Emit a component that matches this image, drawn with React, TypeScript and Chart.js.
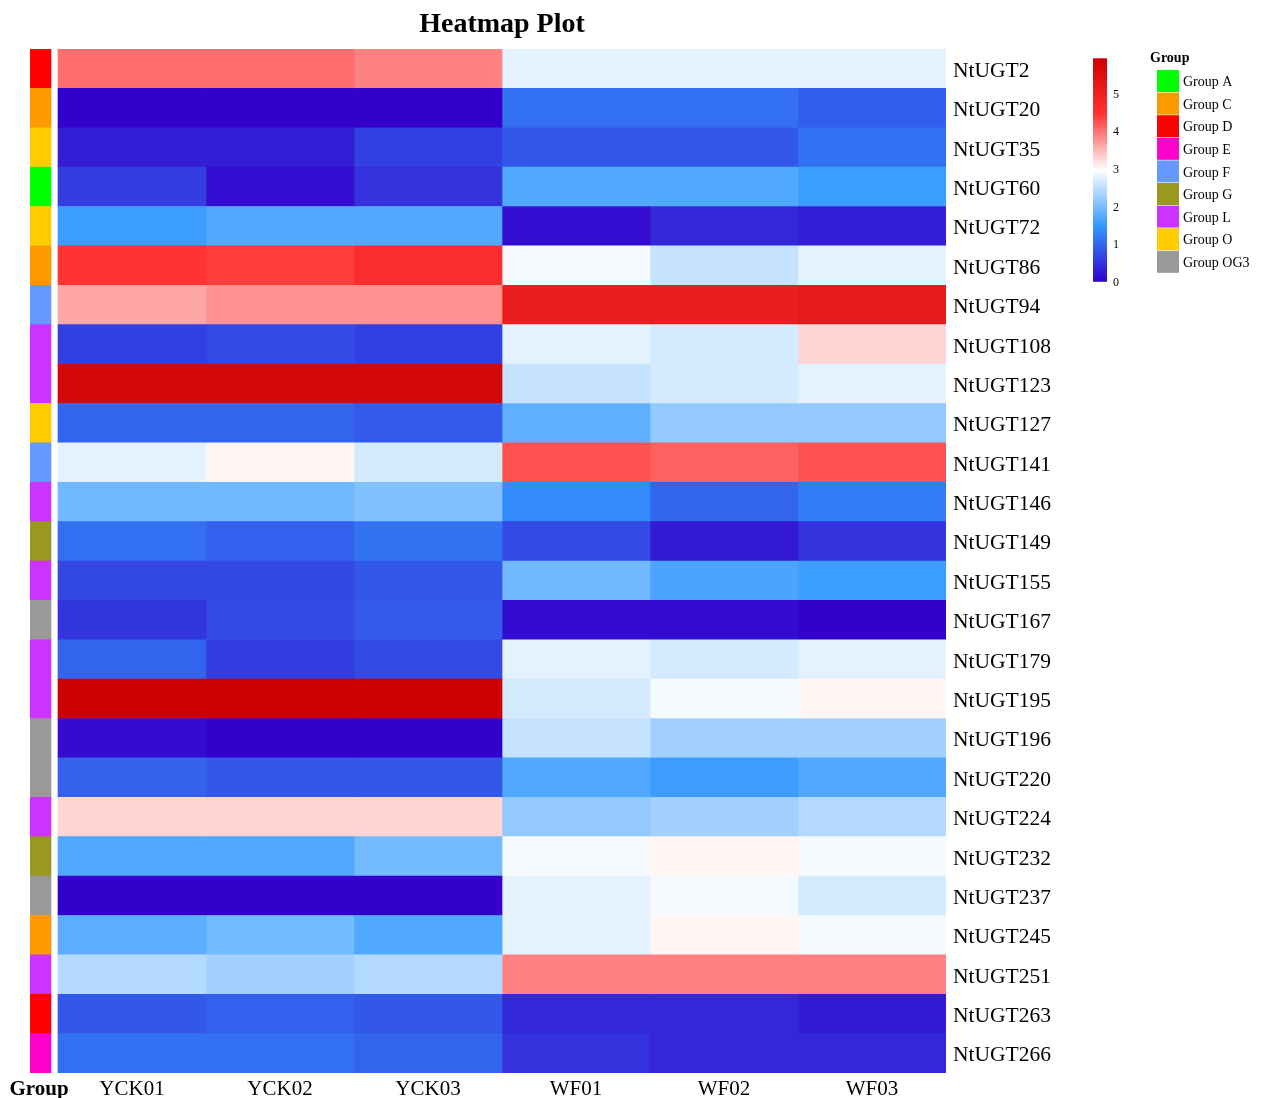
import React, { useEffect, useRef } from "react";
import { Chart, registerables } from "chart.js";

Chart.register(...registerables);

const genes = ["NtUGT2","NtUGT20","NtUGT35","NtUGT60","NtUGT72","NtUGT86","NtUGT94","NtUGT108","NtUGT123","NtUGT127","NtUGT141","NtUGT146","NtUGT149","NtUGT155","NtUGT167","NtUGT179","NtUGT195","NtUGT196","NtUGT220","NtUGT224","NtUGT232","NtUGT237","NtUGT245","NtUGT251","NtUGT263","NtUGT266"];
const samples = ["YCK01","YCK02","YCK03","WF01","WF02","WF03"];
const yck01 = [4.03,0,0.29,0.59,1.54,4.455,3.62,0.62,5.71,0.97,2.77,1.93,1.09,0.70,0.52,0.97,5.94,0.12,0.95,3.28,1.70,0,1.78,2.42,0.85,1.09];
const yck02 = [4.03,0,0.29,0.13,1.70,4.38,3.77,0.72,5.71,0.97,3.04,1.93,0.93,0.70,0.72,0.58,5.94,0,0.85,3.28,1.70,0,1.96,2.30,0.93,1.09];
const yck03 = [3.88,0,0.62,0.49,1.70,4.63,3.77,0.62,5.71,0.87,2.66,2.06,1.12,0.85,0.87,0.72,5.94,0,0.85,3.28,1.96,0,1.70,2.42,0.85,0.97];
const wf01 = [2.77,1.09,0.85,1.70,0.13,2.90,5.07,2.77,2.55,1.81,4.24,1.34,0.72,1.93,0.12,2.77,2.66,2.55,1.70,2.18,2.90,2.77,2.77,3.88,0.39,0.49];
const wf02 = [2.77,1.09,0.85,1.70,0.39,2.55,5.07,2.66,2.66,2.18,4.13,0.97,0.23,1.66,0.12,2.66,2.90,2.30,1.55,2.30,3.04,2.90,3.04,3.88,0.39,0.39];
const wf03 = [2.77,0.91,1.09,1.54,0.29,2.77,5.18,3.28,2.77,2.18,4.24,1.20,0.49,1.54,0,2.77,3.04,2.30,1.70,2.42,2.90,2.66,2.90,3.88,0.25,0.39];
const sampleValues = [yck01, yck02, yck03, wf01, wf02, wf03];
const geneGroups = ["D","C","O","A","O","C","F","L","L","O","F","L","G","L","OG3","L","L","OG3","OG3","L","G","OG3","C","L","D","E"];
const groupNames = ["A","C","D","E","F","G","L","O","OG3"];
const groupColors = ["#00FF00","#FF9900","#FF0000","#FF00CC","#6699FF","#999922","#CC33FF","#FFCC00","#999999"];
const colorMin = 0;
const colorMax = 5.94;
const colorbarTicks = [0,1,2,3,4,5];
const rampColors = ["#3300CC","#3399FF","#FFFFFF","#FF3333","#CC0000"];

const FONT = "'Liberation Serif', 'Times New Roman', serif";

function hexToRgb(h: string) {
  return [parseInt(h.slice(1,3),16), parseInt(h.slice(3,5),16), parseInt(h.slice(5,7),16)];
}
function valueColor(v: number) {
  const t = Math.max(0, Math.min(1, (v - colorMin) / (colorMax - colorMin)));
  const n = rampColors.length - 1;
  const seg = Math.min(n - 1, Math.floor(t * n));
  const f = t * n - seg;
  const a = hexToRgb(rampColors[seg]);
  const b = hexToRgb(rampColors[seg + 1]);
  const c = a.map((x, i) => Math.round(x + (b[i] - x) * f));
  return `rgb(${c[0]},${c[1]},${c[2]})`;
}

const GROUP_LEFT = -28 / 148;
const GROUP_RIGHT = -7 / 148;
const GROUP_TICK = (GROUP_LEFT + GROUP_RIGHT) / 2 - 0.01;

const overlayPlugin = {
  id: "overlay",
  afterDraw(chart: any) {
    const ctx = chart.ctx;
    const xs = chart.scales.x;
    ctx.save();
    ctx.fillStyle = "#000";
    ctx.font = `bold 28px ${FONT}`;
    ctx.textAlign = "center";
    ctx.textBaseline = "middle";
    const cx = (xs.getPixelForValue(0) + xs.getPixelForValue(6)) / 2;
    ctx.fillText("Heatmap Plot", cx, 25);
    ctx.textAlign = "left";
    ctx.font = `bold 14px ${FONT}`;
    ctx.fillText("Group", 1150, 58);
    ctx.font = `14px ${FONT}`;
    groupNames.forEach((g, i) => {
      const y = 70 + i * 22.6;
      ctx.fillStyle = groupColors[i];
      ctx.fillRect(1157, y, 22, 22);
      ctx.fillStyle = "#000";
      ctx.fillText("Group " + g, 1183, y + 12.5);
    });
    ctx.restore();
  },
};

function ColorBar() {
  const ref = useRef<HTMLCanvasElement>(null);
  useEffect(() => {
    const chart = new Chart(ref.current!, {
      type: "bar",
      data: {
        labels: [""],
        datasets: [{
          data: [[colorMin, colorMax]] as any,
          backgroundColor: (c: any) => {
            const ch = c.chart;
            const ys = ch.scales.y;
            if (!ch.chartArea || !ys) return "#fff";
            const g = ch.ctx.createLinearGradient(0, ys.getPixelForValue(colorMin), 0, ys.getPixelForValue(colorMax));
            rampColors.forEach((col, i) => g.addColorStop(i / (rampColors.length - 1), col));
            return g;
          },
          borderWidth: 0,
          barPercentage: 1,
          categoryPercentage: 1,
        }],
      },
      options: {
        animation: false,
        responsive: false,
        events: [],
        layout: { padding: { left: 8, top: 12, bottom: 13, right: 0 } },
        plugins: { legend: { display: false }, tooltip: { enabled: false }, title: { display: false } },
        scales: {
          x: { display: false },
          y: {
            position: "right",
            min: colorMin,
            max: colorMax,
            grid: { display: false, drawTicks: false },
            border: { display: false },
            afterBuildTicks: (s: any) => { s.ticks = colorbarTicks.map((v) => ({ value: v })); },
            afterFit: (s: any) => { s.width = 28; },
            ticks: { color: "#000", font: { family: FONT, size: 12 }, padding: 6, labelOffset: 1, callback: (v: any) => String(v) },
          },
        },
      } as any,
    });
    return () => chart.destroy();
  }, []);
  return <canvas ref={ref} width={50} height={250} style={{ position: "absolute", left: 1085, top: 45 }} />;
}

export default function App() {
  const ref = useRef<HTMLCanvasElement>(null);
  useEffect(() => {
    const datasets: any[] = sampleValues.map((vals, ci) => ({
      label: samples[ci],
      data: vals.map(() => [ci, ci + 1]),
      backgroundColor: vals.map((v) => valueColor(v)),
      borderWidth: 0,
      grouped: false,
      barPercentage: 1,
      categoryPercentage: 1,
    }));
    datasets.push({
      label: "Group",
      data: geneGroups.map(() => [GROUP_LEFT, GROUP_RIGHT]),
      backgroundColor: geneGroups.map((g) => groupColors[groupNames.indexOf(g)]),
      borderWidth: 0,
      grouped: false,
      barPercentage: 1,
      categoryPercentage: 1,
    });
    const tickVals = [GROUP_TICK, ...samples.map((_, i) => i + 0.5)];
    const tickLabels = ["Group", ...samples];
    const chart = new Chart(ref.current!, {
      type: "bar",
      data: { labels: genes, datasets },
      options: {
        indexAxis: "y",
        animation: false,
        responsive: false,
        events: [],
        layout: { padding: { left: 30, top: 49, right: 0, bottom: 0 } },
        plugins: { legend: { display: false }, tooltip: { enabled: false }, title: { display: false } },
        scales: {
          x: {
            type: "linear",
            position: "bottom",
            min: GROUP_LEFT,
            max: 6,
            grid: { display: false, drawTicks: false },
            border: { display: false },
            afterBuildTicks: (s: any) => { s.ticks = tickVals.map((v) => ({ value: v })); },
            afterFit: (s: any) => { s.height = 25; },
            ticks: {
              autoSkip: false,
              maxRotation: 0,
              padding: 4,
              color: "#000",
              font: (c: any) => ({ family: FONT, size: 21, weight: c.index === 0 ? "bold" : "normal" }),
              callback: (_v: any, i: number) => tickLabels[i],
            },
          },
          y: {
            type: "category",
            position: "right",
            grid: { display: false, drawTicks: false },
            border: { display: false },
            afterFit: (s: any) => { s.width = 1265 - 946; },
            ticks: { color: "#000", padding: 7, labelOffset: 2.5, font: { family: FONT, size: 21.5 }, autoSkip: false },
          },
        },
      } as any,
      plugins: [overlayPlugin],
    });
    return () => chart.destroy();
  }, []);
  return (
    <div style={{ position: "fixed", left: 0, top: 0, width: 1265, height: 1098, background: "#fff" }}>
      <canvas ref={ref} width={1265} height={1098} style={{ position: "absolute", left: 0, top: 0 }} />
      <ColorBar />
    </div>
  );
}
